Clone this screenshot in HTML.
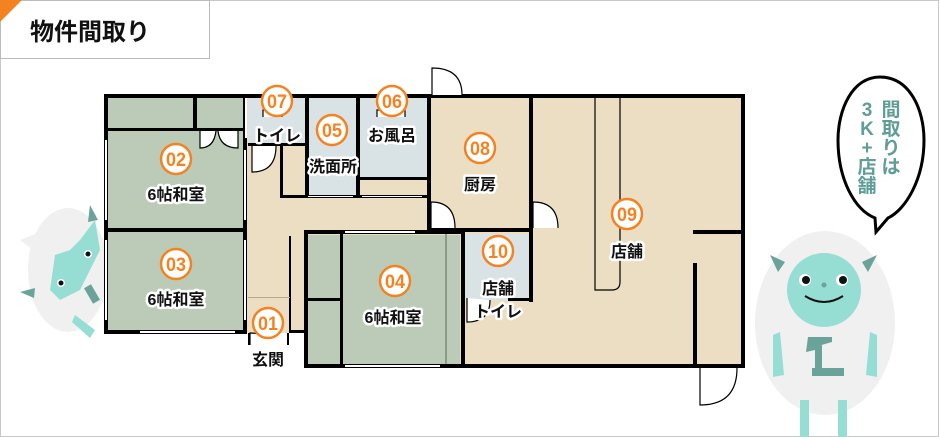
<!DOCTYPE html>
<html><head><meta charset="utf-8"><style>
html,body{margin:0;padding:0;background:#fff;}
svg{display:block;}
text{font-family:"Liberation Sans","Noto Sans CJK JP",sans-serif;font-weight:bold;}
.lb{font-size:16px;fill:#111;stroke:#fff;stroke-width:5px;paint-order:stroke;text-anchor:middle;stroke-linejoin:round;}
.nm{font-size:19px;fill:#f58220;text-anchor:middle;font-weight:bold;}
</style></head><body>
<svg width="940" height="437" viewBox="0 0 940 437" xmlns="http://www.w3.org/2000/svg">
<rect x="0.5" y="0.5" width="938" height="436" fill="#fff" stroke="#c8c8c8"/>
<rect x="0.5" y="0.5" width="209" height="58" fill="#fff" stroke="#bbb"/>
<polygon points="0,0 22,0 0,22" fill="#f58220"/>
<text x="30" y="40" font-size="24" fill="#111">物件間取り</text>

<g>
<ellipse cx="68" cy="270" rx="40" ry="62" fill="#f0f0f0"/>
<polygon points="20,240 45,230 40,255" fill="#f0f0f0"/>
<polygon points="90,205 98,220 88,222" fill="#6aa39a"/>
<polygon points="20,292 35,288 34,298" fill="#6aa39a"/>
<path d="M55,255 L70,250 L80,240 L95,220 L100,250 L80,290 L60,300 L50,290Z" fill="#96ddd4"/>
<circle cx="88" cy="254" r="4" fill="#fff"/><circle cx="88" cy="254" r="2.5" fill="#111"/>
<circle cx="61" cy="283" r="4" fill="#fff"/><circle cx="61" cy="283" r="2.5" fill="#111"/>
<rect x="88" y="285" width="8" height="18" fill="#6aa39a" transform="rotate(-30 92 294)"/>
<path d="M75,315 L95,330 L90,338 L72,322Z" fill="#96ddd4"/>
</g>

<rect x="247" y="98" width="183" height="235" fill="#ecdec3"/>
<rect x="247" y="232" width="60" height="101" fill="#ecdec3"/>
<rect x="430" y="98" width="313" height="267" fill="#ecdec3"/>
<rect x="108" y="98" width="137" height="232" fill="#bccbb8"/>
<rect x="308" y="235" width="152" height="130" fill="#bccbb8"/>
<rect x="248" y="98" width="57" height="47" fill="#d9e2e5"/>
<rect x="309" y="98" width="48" height="99" fill="#d9e2e5"/>
<rect x="360" y="98" width="68" height="80" fill="#d9e2e5"/>
<rect x="465" y="234" width="65" height="66" fill="#d9e2e5"/>

<g fill="#000">
<rect x="104" y="94" width="327" height="4"/>
<rect x="104" y="94" width="4" height="240"/>
<rect x="104" y="330" width="143" height="4"/>
<rect x="243" y="94" width="4" height="240"/>
<rect x="108" y="128" width="137" height="3"/>
<rect x="193" y="98" width="4" height="32"/>
<rect x="108" y="228" width="137" height="4"/>
<rect x="305" y="98" width="4" height="100"/>
<rect x="356" y="98" width="4" height="100"/>
<rect x="280" y="195" width="150" height="3"/>
<rect x="280" y="145" width="3" height="52"/>
<rect x="248" y="143" width="57" height="3"/>
<rect x="360" y="177" width="68" height="3"/>
<rect x="427" y="94" width="4" height="136"/>
<rect x="289" y="236" width="2" height="96"/>
<rect x="289" y="330" width="18" height="3"/>
<rect x="248" y="297" width="42" height="1" fill="#b9a98a"/>
<rect x="248" y="333" width="2" height="12"/>
<rect x="287" y="333" width="2" height="12"/>
<rect x="304" y="230" width="160" height="4"/>
<rect x="304" y="230" width="4" height="137"/>
<rect x="304" y="364" width="440" height="4"/>
<rect x="340" y="234" width="3" height="130"/>
<rect x="308" y="298" width="32" height="3"/>
<rect x="445" y="234" width="2" height="130" fill="#8a9a86"/>
<rect x="461" y="230" width="4" height="137"/>
<rect x="431" y="94" width="314" height="4"/>
<rect x="741" y="94" width="4" height="274"/>
<rect x="529" y="98" width="4" height="134"/>
<rect x="431" y="228" width="102" height="4"/>
<rect x="529" y="232" width="4" height="70"/>
<rect x="508" y="298" width="25" height="3"/>
<rect x="693" y="230" width="50" height="4"/>
<rect x="693" y="263" width="4" height="103"/>
</g>
<path d="M595,98 V290 H612 Q620,290 620,282 V98" fill="none" stroke="#000" stroke-width="1.2"/>
<g fill="#fff">
<rect x="105" y="140" width="2" height="80"/><rect x="105" y="240" width="2" height="80"/>
<rect x="244" y="150" width="2" height="70"/><rect x="244" y="240" width="2" height="80"/>
<rect x="140" y="331" width="95" height="2"/>
<rect x="245" y="98" width="2" height="40"/>
<rect x="345" y="365" width="95" height="2"/><rect x="345" y="231" width="70" height="2"/>
<rect x="308" y="196" width="45" height="1"/><rect x="362" y="196" width="60" height="1"/>
</g>
<g fill="#fff" stroke="#000" stroke-width="1.2">
<path d="M432,95 V68 Q462,68 462,95" />
<path d="M431,228 V202 Q455,202 455,228"/>
<path d="M533,228 V202 Q558,202 558,228"/>
<path d="M700,368 V405 Q737,405 737,368"/>
<path d="M252,146 V172 Q276,172 276,146"/>
<path d="M200,131 V148 Q214,148 216,131 M218,131 Q220,148 238,148 V131"/>
<path d="M250,345 V333 Q262,333 262,338"/>
<path d="M467,298 V322 Q490,322 490,300"/>
<path d="M263,117 V110 H282 V117"/>
<path d="M377,117 V110 H405 V117"/>
</g>

<g>
<text class="lb" x="176" y="200">6帖和室</text>
<text class="lb" x="176" y="305">6帖和室</text>
<text class="lb" x="393" y="323">6帖和室</text>
<text class="lb" x="277" y="141">トイレ</text>
<text class="lb" x="333" y="172">洗面所</text>
<text class="lb" x="392" y="141">お風呂</text>
<text class="lb" x="268" y="365">玄関</text>
<text class="lb" x="480" y="190">厨房</text>
<text class="lb" x="627" y="257">店舗</text>
<text class="lb" x="498" y="294">店舗</text>
<text class="lb" x="498" y="317">トイレ</text>
</g>
<g fill="#fff" stroke="#f58220" stroke-width="2.5">
<circle cx="277" cy="101" r="15"/><circle cx="392" cy="101" r="15"/>
<circle cx="332" cy="130" r="15"/><circle cx="176" cy="159" r="15"/>
<circle cx="176" cy="264" r="15"/><circle cx="395" cy="281" r="15"/>
<circle cx="268" cy="323" r="15"/><circle cx="480" cy="148" r="15"/>
<circle cx="627" cy="214" r="15"/><circle cx="498" cy="251" r="15"/>
</g>
<g>
<text class="nm" x="277" y="108" textLength="20" lengthAdjust="spacingAndGlyphs">07</text><text class="nm" x="392" y="108" textLength="20" lengthAdjust="spacingAndGlyphs">06</text>
<text class="nm" x="332" y="137" textLength="20" lengthAdjust="spacingAndGlyphs">05</text><text class="nm" x="176" y="166" textLength="20" lengthAdjust="spacingAndGlyphs">02</text>
<text class="nm" x="176" y="271" textLength="20" lengthAdjust="spacingAndGlyphs">03</text><text class="nm" x="395" y="288" textLength="20" lengthAdjust="spacingAndGlyphs">04</text>
<text class="nm" x="268" y="330" textLength="20" lengthAdjust="spacingAndGlyphs">01</text><text class="nm" x="480" y="155" textLength="20" lengthAdjust="spacingAndGlyphs">08</text>
<text class="nm" x="627" y="221" textLength="20" lengthAdjust="spacingAndGlyphs">09</text><text class="nm" x="498" y="258" textLength="20" lengthAdjust="spacingAndGlyphs">10</text>
</g>

<path d="M880,77 C910,77 924,110 924,140 C924,180 905,210 888,218 L876,232 L875,218 C855,210 838,180 838,140 C838,110 852,77 880,77Z" fill="#fff" stroke="#000" stroke-width="3"/>
<g font-size="19" fill="#5f9e96" text-anchor="middle">
<text x="891" y="116">間</text><text x="891" y="135">取</text><text x="891" y="154">り</text><text x="891" y="173">は</text>
<text x="867" y="116">3</text><text x="867" y="135">K</text><text x="867" y="154">+</text><text x="867" y="173">店</text><text x="867" y="192">舗</text>
</g>

<g>
<ellipse cx="825" cy="323" rx="70" ry="92" fill="#f0f0f0"/>
<polygon points="770,255 785,262 778,272" fill="#6aa39a"/>
<polygon points="877,255 862,262 868,272" fill="#6aa39a"/>
<circle cx="824" cy="290" r="37" fill="#96ddd4"/>
<circle cx="805" cy="280" r="6" fill="#fff"/><circle cx="806" cy="280" r="4" fill="#111"/>
<circle cx="842" cy="280" r="6" fill="#fff"/><circle cx="843" cy="280" r="4" fill="#111"/>
<circle cx="824" cy="285" r="2.5" fill="#6aa39a"/>
<path d="M805,296 Q824,308 843,296" fill="none" stroke="#111" stroke-width="2"/>
<path d="M773,335 L780,332 L784,375 L773,377Z" fill="#96ddd4"/>
<path d="M877,335 L870,332 L866,375 L877,377Z" fill="#96ddd4"/>
<path d="M808,337 L832,337 L832,342 L818,346 L822,345 V368 H844 V376 H812 V368 H815 V350 L806,352Z" fill="#6aa39a"/>
<rect x="800" y="400" width="9" height="37" fill="#96ddd4"/>
<rect x="838" y="400" width="9" height="37" fill="#96ddd4"/>
</g>
</svg>
</body></html>
